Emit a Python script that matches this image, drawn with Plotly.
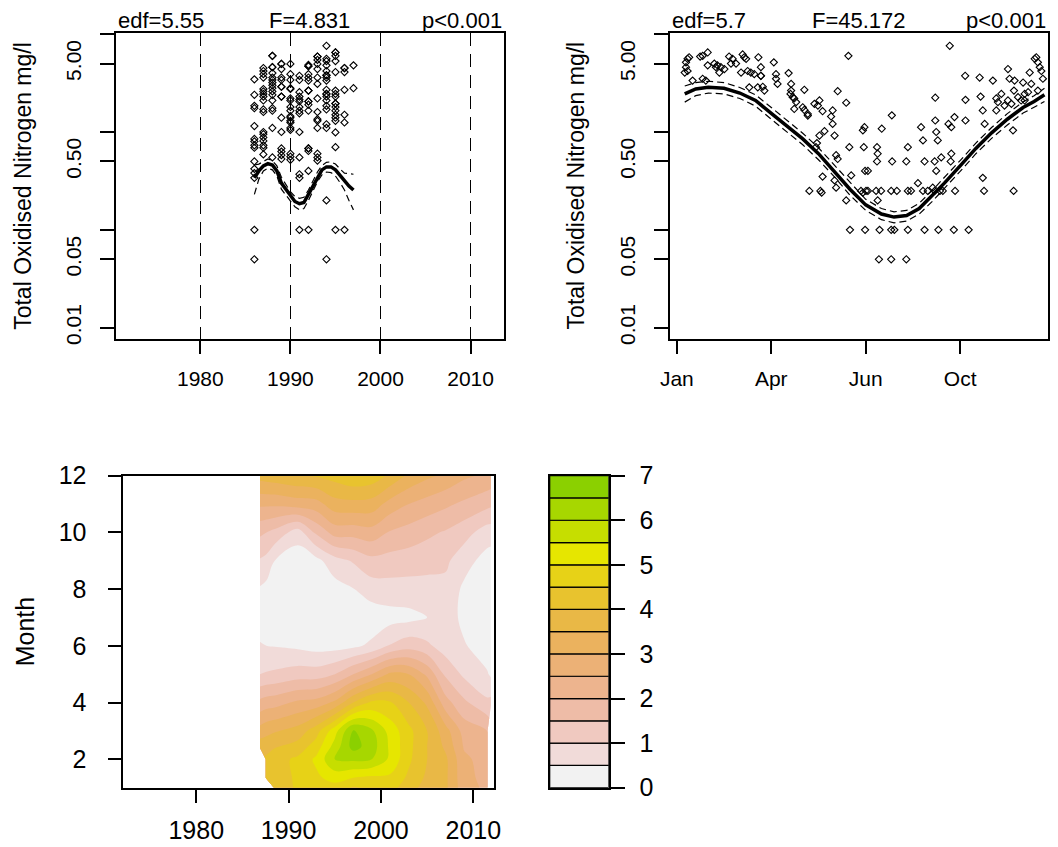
import colorsys
import plotly.graph_objects as go

# Page geometry: target pixel positions are mapped onto the figure canvas,
# which sits inside the 8px body margin of the page.
OFF = 8
SX, TX = 0.983, 2.0
SY, TY = 0.9675, 5.6
FIG_W = round((1058 - TX) / SX) - OFF
FIG_H = round((847 - TY) / SY) - OFF
FONT = "Liberation Sans, Arial, sans-serif"
FS_TICK = 21
FS_TITLE = 23
FS_STAT = 22
FS_BOT = 25

# ---------------- long-term trend panel ----------------
trend_years = [1986, 1987, 1988, 1989, 1990, 1991, 1992, 1993, 1994, 1995, 1996, 1997]
trend_values = [
    [3.45, 2.4, 1.85, 1.75, 1.15, 0.85, 0.8, 0.73, 0.69, 0.5, 0.42, 0.38, 0.34, 0.1, 0.05],
    [4.5, 4.2, 3.9, 3.6, 2.75, 2.6, 2.45, 2.3, 2.1, 1.7, 1.6, 1.0, 0.95, 0.88, 0.81, 0.73, 0.69, 0.59],
    [6.0, 6.0, 4.6, 4.6, 4.0, 3.6, 3.4, 3.2, 3.0, 2.8, 2.6, 2.4, 2.1, 1.75, 1.65, 1.1, 0.55],
    [4.96, 4.96, 4.4, 3.6, 3.4, 2.9, 2.9, 2.3, 2.3, 1.4, 1.0, 0.68, 0.63, 0.58, 0.53],
    [4.96, 3.9, 3.4, 2.8, 2.75, 2.2, 2.1, 1.8, 1.65, 1.45, 1.4, 1.3, 1.25, 1.1, 1.05, 0.6, 0.56, 0.52],
    [3.75, 3.4, 2.55, 2.3, 2.15, 2.05, 1.8, 1.65, 1.55, 1.0, 0.55, 0.37, 0.34, 0.1],
    [4.85, 4.7, 4.7, 3.9, 3.6, 3.35, 2.65, 2.65, 2.05, 2.05, 1.9, 1.65, 0.68, 0.68, 0.64, 0.4, 0.1],
    [5.9, 5.9, 5.45, 4.96, 4.4, 3.6, 3.1, 2.2, 1.6, 1.35, 1.3, 1.1, 0.6, 0.55, 0.51],
    [7.6, 5.6, 5.3, 4.8, 4.2, 3.8, 3.8, 3.6, 3.35, 2.7, 2.45, 2.45, 2.3, 2.1, 1.85, 1.7, 1.2, 1.1, 0.2, 0.05],
    [6.5, 6.5, 6.0, 5.3, 4.1, 2.65, 2.45, 2.3, 1.95, 1.95, 1.8, 1.65, 1.5, 1.4, 1.3, 0.99, 0.7, 0.1],
    [4.5, 4.5, 4.1, 2.7, 1.5, 1.25, 0.1],
    [4.8, 2.8],
]
trend_fit_year = [1986, 1986.5, 1987, 1987.5, 1988, 1988.5, 1989, 1989.5, 1990, 1990.5, 1991, 1991.5,
                  1992, 1992.5, 1993, 1993.5, 1994, 1994.5, 1995, 1995.5, 1996, 1996.5, 1997]
trend_fit = [0.34, 0.40, 0.45, 0.475, 0.46, 0.40, 0.30, 0.26, 0.22, 0.195, 0.185, 0.19,
             0.23, 0.28, 0.35, 0.41, 0.44, 0.44, 0.41, 0.36, 0.31, 0.28, 0.255]
trend_upper = [0.46, 0.47, 0.50, 0.53, 0.51, 0.45, 0.345, 0.29, 0.245, 0.22, 0.21, 0.215,
               0.255, 0.315, 0.39, 0.455, 0.49, 0.495, 0.47, 0.42, 0.38, 0.375, 0.37]
trend_lower = [0.23, 0.33, 0.40, 0.425, 0.41, 0.355, 0.26, 0.225, 0.195, 0.172, 0.16, 0.165,
               0.2, 0.245, 0.31, 0.365, 0.39, 0.385, 0.355, 0.305, 0.255, 0.2, 0.16]
trend_stats = ["edf=5.55", "F=4.831", "p&lt;0.001"]

# ---------------- seasonal panel ----------------
season_month = [
    1.29, 1.34, 1.29, 1.39, 1.25, 1.34, 1.74, 1.98, 1.82, 1.98, 2.19, 2.24, 2.29, 2.35, 2.40, 2.51, 1.50, 1.82, 1.92,
    2.66, 2.77, 2.72, 2.88, 3.09, 3.14, 3.20, 3.04, 3.25, 3.35, 3.46, 3.59, 3.67, 3.67, 3.67, 3.30, 3.57, 3.73, 3.78,
    4.08, 4.15, 4.15, 4.20, 4.55, 4.63, 4.63, 4.68, 4.73, 4.79, 4.61, 5.05, 5.00, 5.16, 5.16, 5.37, 5.48, 5.53, 5.63, 5.05, 4.73,
    5.95, 5.90, 5.95, 5.69, 5.53, 6.01, 6.11, 6.38, 6.45, 5.42, 5.45, 5.63, 6.06, 6.11, 6.01, 6.06, 5.21, 5.56, 5.60, 6.38, 6.48, 6.54,
    6.91, 6.96, 6.94, 6.98, 7.07, 7.01, 7.07, 7.36, 7.38, 7.36, 7.33, 7.49, 7.38, 7.51, 7.83, 7.84, 7.81, 7.99, 6.85, 6.91,
    8.34, 8.29, 8.34, 8.44, 8.66, 8.76, 8.82, 8.87, 8.82, 8.97, 9.13, 9.19, 9.21, 9.21, 9.24, 9.29, 9.40, 9.24, 9.19, 9.36,
    9.45, 9.63, 9.72, 9.72, 9.70, 9.82, 9.84,
    10.16, 10.17, 10.17, 10.62, 10.65, 10.72, 10.78, 10.72, 10.76, 11.04, 11.15, 11.15, 11.52, 11.57, 11.52, 11.41, 11.73, 11.71, 11.68, 11.70,
    12.00, 12.05, 12.05, 12.16, 12.21, 12.26, 12.37, 12.42, 12.47, 12.53, 12.58, 12.63, 12.47, 11.94, 11.84, 11.63, 11.31, 11.20,
    6.50, 6.98, 7.44, 7.81, 7.91, 8.34, 8.87, 9.31, 9.80, 10.27,
    7.42, 7.81, 8.29,
    9.67,
]
season_value = [
    5.15, 5.6, 4.6, 5.8, 4.05, 4.2, 5.9, 6.5, 6.0, 4.8, 5.0, 4.6, 4.8, 4.05, 4.6, 4.4, 3.35, 3.5, 3.35,
    5.9, 5.6, 5.0, 5.0, 6.2, 5.8, 5.6, 4.05, 4.2, 4.05, 3.9, 5.8, 3.75, 3.75, 4.6, 2.86, 2.86, 2.9, 2.65,
    5.15, 3.9, 3.5, 3.1, 4.0, 3.1, 2.65, 2.27, 2.2, 2.02, 2.45, 2.7, 1.79, 1.53, 1.47, 1.94, 1.86, 2.1, 1.63, 1.68, 1.72,
    1.66, 1.44, 1.21, 1.02, 0.92, 0.92, 2.61, 1.99, 6.0, 0.70, 0.77, 0.35, 0.58, 0.53, 0.32, 0.27, 0.25, 0.25, 0.24, 0.20, 0.70, 0.36,
    1.04, 1.12, 0.70, 0.40, 0.40, 0.25, 0.25, 0.70, 0.60, 0.5, 0.25, 0.25, 0.20, 1.08, 1.48, 0.5, 0.25, 0.25, 0.25, 0.24,
    0.70, 0.5, 0.25, 0.25, 0.30, 1.12, 0.82, 0.5, 0.25, 0.25, 0.27, 0.5, 2.24, 1.31, 1.0, 0.82, 0.55, 0.40, 0.25, 0.25,
    0.25, 1.21, 1.12, 0.60, 0.5, 1.42, 0.25,
    3.75, 2.13, 1.31, 3.6, 2.3, 1.66, 1.21, 0.34, 0.25, 3.35, 2.2, 1.66, 4.4, 3.5, 2.1, 1.86, 3.35, 2.65, 1.04, 0.25,
    3.2, 2.45, 2.1, 2.55, 4.05, 3.1, 5.6, 5.8, 5.15, 4.6, 4.2, 3.5, 2.65, 2.1, 2.27, 1.94, 2.45, 2.02,
    0.1, 0.1, 0.1, 0.1, 0.1, 0.1, 0.1, 0.1, 0.1, 0.1,
    0.05, 0.05, 0.05,
    7.6,
]
season_fit_month = [1.25, 1.6, 2.0, 2.5, 3.0, 3.5, 4.0, 4.5, 5.0, 5.5, 6.0, 6.5, 7.0, 7.5, 7.9, 8.3,
                    8.7, 9.1, 9.5, 10.0, 10.5, 11.0, 11.5, 12.0, 12.35, 12.68]
season_fit = [2.45, 2.75, 2.87, 2.8, 2.5, 2.1, 1.55, 1.15, 0.85, 0.6, 0.4, 0.26, 0.18, 0.145, 0.135,
              0.14, 0.165, 0.22, 0.3, 0.45, 0.68, 0.98, 1.35, 1.78, 2.05, 2.4]
season_upper = [2.95, 3.2, 3.3, 3.2, 2.85, 2.4, 1.78, 1.32, 0.97, 0.69, 0.46, 0.3, 0.205, 0.165, 0.153,
                0.158, 0.187, 0.25, 0.34, 0.51, 0.77, 1.11, 1.54, 2.03, 2.35, 2.8]
season_lower = [2.02, 2.35, 2.5, 2.45, 2.2, 1.84, 1.35, 1.0, 0.74, 0.52, 0.35, 0.226, 0.158, 0.127, 0.118,
                0.123, 0.145, 0.193, 0.264, 0.395, 0.6, 0.86, 1.18, 1.56, 1.79, 2.05]
season_ticks = [1, 4, 7, 10]
season_ticktext = ["Jan", "Apr", "Jun", "Oct"]
season_stats = ["edf=5.7", "F=45.172", "p&lt;0.001"]

# ---------------- year x month surface ----------------
grid_years = [1986.9, 1987.6, 1988.5, 1991, 1993, 1995, 1997, 1999, 2001, 2003, 2005, 2007, 2009, 2011.5, 2011.9]
grid_months = [1, 1.35, 2, 2.45, 3, 4, 5, 6, 7, 8, 9, 10, 11, 12]
N = None
grid_z_by_year = [
    [N, N, N, 3.8, 3.2, 2.15, 1.0, 0.55, 0.2, 0.45, 0.95, 1.6, 2.6, 3.7],
    [N, 4.1, 4.1, 3.8, 3.35, 2.25, 1.05, 0.5, 0.15, 0.35, 0.85, 1.5, 2.6, 3.75],
    [4.1, 4.2, 4.3, 3.95, 3.45, 2.3, 1.1, 0.48, 0.12, 0.25, 0.5, 1.35, 2.6, 3.8],
    [4.6, 4.6, 4.6, 4.2, 3.7, 2.6, 1.25, 0.4, 0.05, 0.1, 0.2, 0.75, 2.75, 3.95],
    [4.8, 4.9, 5.1, 4.75, 4.3, 2.7, 1.25, 0.3, 0.1, 0.15, 0.35, 1.6, 2.8, 4.05],
    [4.8, 5.2, 6.0, 5.7, 5.3, 3.1, 1.5, 0.3, 0.15, 0.3, 0.8, 2.2, 3.3, 4.2],
    [4.45, 5.0, 6.1, 6.7, 6.55, 4.0, 2.0, 0.4, 0.15, 0.48, 1.05, 2.2, 3.35, 4.4],
    [4.6, 4.9, 6.0, 6.25, 6.1, 4.6, 2.5, 0.6, 0.2, 0.75, 1.35, 2.3, 3.3, 4.3],
    [4.7, 4.9, 5.4, 5.4, 5.3, 4.55, 3.1, 1.05, 0.3, 0.8, 1.3, 1.95, 2.8, 3.9],
    [4.2, 4.4, 4.6, 4.65, 4.65, 4.0, 3.0, 1.3, 0.35, 0.8, 1.25, 1.8, 2.5, 3.4],
    [3.8, 3.9, 4.0, 4.0, 4.0, 3.4, 2.4, 1.1, 0.5, 0.8, 1.2, 1.6, 2.3, 3.1],
    [3.6, 3.6, 3.6, 3.4, 3.2, 2.2, 1.4, 0.75, 0.8, 0.85, 1.1, 1.45, 2.1, 2.9],
    [2.7, 2.65, 2.6, 2.45, 2.3, 1.6, 0.9, 0.55, 0.35, 0.4, 0.7, 1.2, 1.9, 2.6],
    [2.4, 2.35, 2.3, 2.15, 2.0, 1.1, 0.55, 0.2, 0.15, 0.2, 0.3, 0.75, 1.65, 2.4],
    [N, N, N, N, N, 1.15, 0.42, 0.15, 0.1, 0.15, 0.25, 0.75, 1.6, 2.35],
]
grid_z = [[col[i] for col in grid_z_by_year] for i in range(len(grid_months))]
band_edges = [0, 0.5, 1, 1.5, 2, 2.5, 3, 3.5, 4, 4.5, 5, 5.5, 6, 6.5, 7]


def terrain_colors(n):
    """R's terrain.colors palette."""
    def seq(a, b, m):
        return [a + (b - a) * i / (m - 1) for i in range(m)] if m > 1 else [a]
    k = n // 2
    m = n - k + 1
    hsv = list(zip(seq(4 / 12, 2 / 12, k), seq(1, 1, k), seq(0.65, 0.9, k)))
    hsv += list(zip(seq(2 / 12, 0, m)[1:], seq(1, 0, m)[1:], seq(0.9, 0.95, m)[1:]))
    out = []
    for h, s, v in hsv:
        r, g, b = colorsys.hsv_to_rgb(h, s, v)
        out.append("#%02X%02X%02X" % (round(r * 255), round(g * 255), round(b * 255)))
    return out


band_colors = terrain_colors(20)[::-1][:len(band_edges) - 1]
n_bands = len(band_colors)
band_scale = [[k / (n_bands - 1), c] for k, c in enumerate(band_colors)]


def px(xp):
    """Page x pixel -> paper fraction."""
    return ((xp - TX) / SX - OFF) / FIG_W


def py(yp):
    """Page y pixel -> paper fraction."""
    return 1 - ((yp - TY) / SY - OFF) / FIG_H


fig = go.Figure()

pt_marker = dict(symbol="diamond-open", size=5.5, color="black", line=dict(width=1.1, color="black"))
fit_line = dict(color="black", width=3.5)
ci_line = dict(color="black", width=1.2, dash="7px,4px")

# trend panel
tx = [yr for yr, vals in zip(trend_years, trend_values) for _ in vals]
tv = [v for vals in trend_values for v in vals]
fig.add_trace(go.Scatter(x=tx, y=tv, mode="markers", marker=pt_marker, xaxis="x", yaxis="y"))
fig.add_trace(go.Scatter(x=trend_fit_year, y=trend_upper, mode="lines", line=ci_line, xaxis="x", yaxis="y"))
fig.add_trace(go.Scatter(x=trend_fit_year, y=trend_lower, mode="lines", line=ci_line, xaxis="x", yaxis="y"))
fig.add_trace(go.Scatter(x=trend_fit_year, y=trend_fit, mode="lines", line=fit_line, xaxis="x", yaxis="y"))

# seasonal panel
fig.add_trace(go.Scatter(x=season_month, y=season_value, mode="markers", marker=pt_marker, xaxis="x2", yaxis="y2"))
fig.add_trace(go.Scatter(x=season_fit_month, y=season_upper, mode="lines", line=ci_line, xaxis="x2", yaxis="y2"))
fig.add_trace(go.Scatter(x=season_fit_month, y=season_lower, mode="lines", line=ci_line, xaxis="x2", yaxis="y2"))
fig.add_trace(go.Scatter(x=season_fit_month, y=season_fit, mode="lines", line=fit_line, xaxis="x2", yaxis="y2"))

# filled contour of year x month
fig.add_trace(go.Contour(
    x=grid_years, y=grid_months, z=grid_z,
    autocontour=False,
    contours=dict(start=band_edges[1], end=band_edges[-2], size=band_edges[1] - band_edges[0],
                  coloring="fill", showlines=False),
    line=dict(width=0),
    colorscale=band_scale, showscale=False, connectgaps=False,
    hoverinfo="skip", xaxis="x3", yaxis="y3",
))

# colour key
fig.add_trace(go.Bar(
    x=[0.5] * n_bands, y=[b - a for a, b in zip(band_edges[:-1], band_edges[1:])],
    base=band_edges[:-1], width=1,
    marker=dict(color=band_colors, line=dict(color="black", width=1.2)),
    xaxis="x4", yaxis="y4", hoverinfo="skip",
))

frame = dict(showline=True, mirror=True, linecolor="black", linewidth=1.5,
             ticks="outside", ticklen=14, tickwidth=1.5, tickcolor="black",
             zeroline=False, showgrid=False)
top_font = dict(family=FONT, size=FS_TICK, color="black")
bot_font = dict(family=FONT, size=FS_BOT, color="black")
log_ticks = [0.01, 0.05, 0.1, 0.5, 1, 5, 10]
log_text = ["0.01", "0.05", "", "0.50", "", "5.00", ""]

top_y = [py(338), py(32)]
bot_y = [py(787), py(475)]

fig.update_layout(
    width=FIG_W, height=FIG_H, margin=dict(l=0, r=0, t=0, b=0),
    paper_bgcolor="white", plot_bgcolor="white", showlegend=False,
    xaxis=dict(frame, domain=[px(116), px(503)], range=[1970.67, 2013.67],
               tickvals=[1980, 1990, 2000, 2010], tickfont=top_font, ticklabelstandoff=6,
               showgrid=True, gridcolor="black", gridwidth=1.3, griddash="13px,8px", anchor="y"),
    yaxis=dict(frame, domain=top_y, type="log", range=[-2.112, 1.015],
               tickvals=log_ticks, ticktext=log_text, tickangle=-90, tickfont=top_font,
               ticklabelstandoff=11, anchor="x"),
    xaxis2=dict(frame, domain=[px(669), px(1047)], range=[0.777, 12.80],
                tickvals=season_ticks, ticktext=season_ticktext, tickfont=top_font,
                ticklabelstandoff=6, anchor="y2"),
    yaxis2=dict(frame, domain=top_y, type="log", range=[-2.112, 1.015],
                tickvals=log_ticks, ticktext=log_text, tickangle=-90, tickfont=top_font,
                ticklabelstandoff=11, anchor="x2"),
    xaxis3=dict(frame, domain=[px(123), px(493)], range=[1972.1, 2012.2],
                tickvals=[1980, 1990, 2000, 2010], tickfont=bot_font, ticklabelstandoff=6,
                anchor="y3"),
    yaxis3=dict(frame, domain=bot_y, range=[1, 12], tickvals=[2, 4, 6, 8, 10, 12],
                tickfont=bot_font, ticklabelstandoff=16, anchor="x3"),
    xaxis4=dict(frame, domain=[px(549), px(608)], range=[0, 1], ticks="", showticklabels=False,
                anchor="y4"),
    yaxis4=dict(frame, domain=bot_y, range=[0, 7], side="right", tickvals=[0, 1, 2, 3, 4, 5, 6, 7],
                tickfont=bot_font, ticklabelstandoff=10, anchor="x4"),
)

ann = []


def stat_row(texts, left, right):
    for txt, xp, anchor in zip(texts, [left, (left + right) / 2, right], ["left", "center", "right"]):
        ann.append(dict(text=txt, x=px(xp), y=py(19.6), xref="paper", yref="paper",
                        xanchor=anchor, yanchor="middle", showarrow=False,
                        font=dict(family=FONT, size=FS_STAT, color="black")))


stat_row(trend_stats, 116, 503)
stat_row(season_stats, 669, 1047)

for txt, xp, yp, fs in [("Total Oxidised Nitrogen mg/l", 23, 185, FS_TITLE),
                        ("Total Oxidised Nitrogen mg/l", 575, 185, FS_TITLE),
                        ("Month", 24.5, 631, FS_BOT)]:
    ann.append(dict(text=txt, x=px(xp), y=py(yp), xref="paper", yref="paper",
                    xanchor="center", yanchor="middle", textangle=-90, showarrow=False,
                    font=dict(family=FONT, size=fs, color="black")))

fig.update_layout(annotations=ann)
fig.write_html("out.html")
